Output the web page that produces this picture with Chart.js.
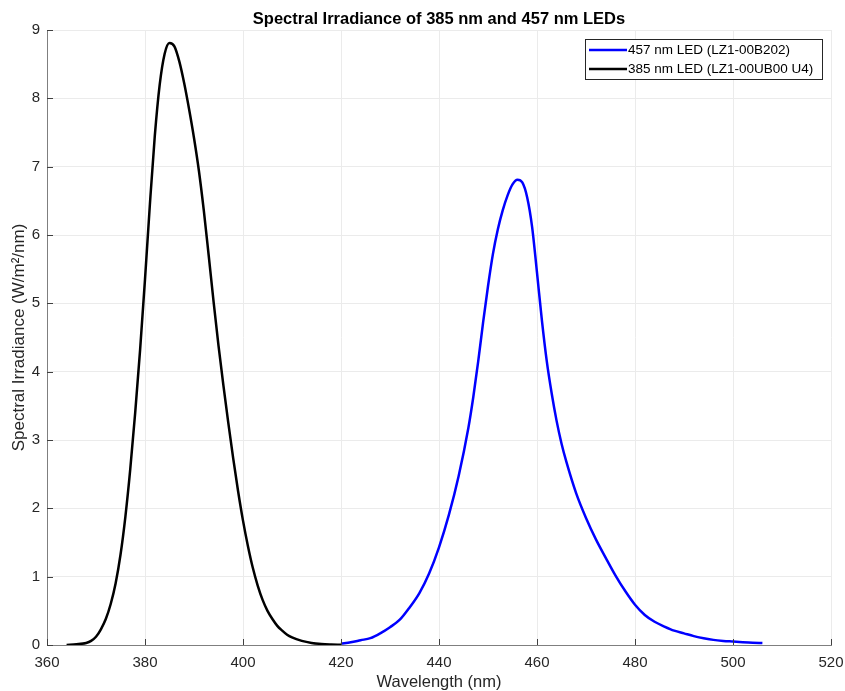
<!DOCTYPE html>
<html lang="en">
<head>
  <meta charset="UTF-8">
  <title>Spectral Irradiance of 385 nm and 457 nm LEDs</title>
  <script src="https://cdn.jsdelivr.net/npm/chart.js"></script>
  <style>
    body {
      margin: 0;
      background-color: #ffffff;
    }
    #chart-box {
      width: 845px;
      height: 691px;
    }
  </style>
</head>
<body>
  <div id="chart-box">
    <canvas id="spectrumChart" width="845" height="691"></canvas>
  </div>

  <script>
    // 385 nm LED (LZ1-00UB00 U4)
    const uvWavelength = [364, 366, 368, 369, 370, 371, 372, 373, 374, 375, 376, 377, 378, 379, 380,
      381, 382, 383, 384, 385, 386, 387, 388, 389, 390, 391, 392, 393, 394, 395, 396, 397, 398, 399,
      400, 401, 402, 403, 404, 405, 406, 407, 408, 409, 410, 412, 414, 416, 418, 420];
    const uvIrradiance = [0, 0.01, 0.03, 0.06, 0.12, 0.23, 0.38, 0.60, 0.90, 1.32, 1.88, 2.58, 3.40, 4.32, 5.35,
      6.45, 7.45, 8.20, 8.65, 8.81, 8.76, 8.54, 8.22, 7.84, 7.42, 6.94, 6.36, 5.70, 5.02, 4.38, 3.80, 3.25, 2.73, 2.25,
      1.82, 1.45, 1.13, 0.87, 0.66, 0.50, 0.38, 0.28, 0.21, 0.15, 0.11, 0.06, 0.03, 0.015, 0.008, 0.004];

    // 457 nm LED (LZ1-00B202)
    const blueWavelength = [420, 422, 424, 426, 428, 430, 432, 434, 436, 438, 440, 442, 444, 446, 447, 448, 449, 450,
      451, 452, 453, 454, 455, 456, 457, 458, 459, 460, 461, 462, 463, 464, 465, 466, 468, 470, 472, 474,
      476, 478, 480, 482, 484, 486, 488, 490, 492, 494, 496, 498, 500, 502, 504, 506];
    const blueIrradiance = [0.02, 0.04, 0.07, 0.10, 0.17, 0.26, 0.37, 0.55, 0.76, 1.05, 1.43, 1.90, 2.47, 3.18, 3.63, 4.15, 4.72, 5.25,
      5.72, 6.08, 6.36, 6.58, 6.74, 6.81, 6.77, 6.55, 6.12, 5.45, 4.75, 4.15, 3.68, 3.28, 2.95, 2.68, 2.22, 1.86, 1.55, 1.28,
      1.02, 0.79, 0.59, 0.44, 0.34, 0.27, 0.21, 0.17, 0.13, 0.10, 0.075, 0.06, 0.05, 0.04, 0.032, 0.028];

    const seriesLabels = ['457 nm LED (LZ1-00B202)', '385 nm LED (LZ1-00UB00 U4)'];
    const chartTitle = 'Spectral Irradiance of 385 nm and 457 nm LEDs';

    const toPoints = (xs, ys) => xs.map((x, i) => ({ x: x, y: ys[i] }));

    const FONT = 'Arial, "Liberation Sans", sans-serif';

    // titulo, leyenda dentro del area y ticks hacia dentro (estilo MATLAB)
    const matlabStyle = {
      id: 'matlabStyle',
      afterDraw(chart) {
        const ctx = chart.ctx;
        const area = chart.chartArea;
        const xs = chart.scales.x;
        const ys = chart.scales.y;
        ctx.save();

        // ticks
        ctx.strokeStyle = '#404040';
        ctx.lineWidth = 1;
        ctx.beginPath();
        xs.ticks.forEach(t => {
          const px = Math.round(xs.getPixelForValue(t.value)) + 0.5;
          ctx.moveTo(px, area.bottom);
          ctx.lineTo(px, area.bottom - 6);
        });
        ys.ticks.forEach(t => {
          const py = Math.round(ys.getPixelForValue(t.value)) + 0.5;
          ctx.moveTo(area.left, py);
          ctx.lineTo(area.left + 6, py);
        });
        ctx.stroke();

        // titulo
        ctx.fillStyle = '#000000';
        ctx.font = 'bold 16.5px ' + FONT;
        ctx.textAlign = 'center';
        ctx.textBaseline = 'middle';
        ctx.fillText(chartTitle, (area.left + area.right) / 2, 19);

        // leyenda
        const datasets = chart.data.datasets;
        const bx = 585, by = 39, bw = 237, bh = 40;
        ctx.fillStyle = '#ffffff';
        ctx.fillRect(bx, by, bw, bh);
        ctx.strokeStyle = '#262626';
        ctx.lineWidth = 1;
        ctx.strokeRect(bx + 0.5, by + 0.5, bw, bh);
        ctx.font = '13.5px ' + FONT;
        ctx.textAlign = 'left';
        datasets.forEach((ds, i) => {
          const ly = by + 11 + i * 19;
          ctx.strokeStyle = ds.borderColor;
          ctx.lineWidth = 2.5;
          ctx.beginPath();
          ctx.moveTo(bx + 4, ly);
          ctx.lineTo(bx + 42, ly);
          ctx.stroke();
          ctx.fillStyle = '#000000';
          ctx.fillText(ds.label, bx + 43, ly);
        });
        ctx.restore();
      }
    };

    const ctx = document.getElementById('spectrumChart').getContext('2d');
    const spectrumChart = new Chart(ctx, {
      type: 'line',
      data: {
        datasets: [
          {
            label: seriesLabels[0],
            data: toPoints(blueWavelength, blueIrradiance),
            borderColor: '#0000ff',
            borderWidth: 2.5,
            pointRadius: 0,
            cubicInterpolationMode: 'monotone'
          },
          {
            label: seriesLabels[1],
            data: toPoints(uvWavelength, uvIrradiance),
            borderColor: '#000000',
            borderWidth: 2.5,
            pointRadius: 0,
            cubicInterpolationMode: 'monotone'
          }
        ]
      },
      options: {
        responsive: false,
        animation: false,
        layout: { padding: { top: 30, right: 14, left: 0, bottom: 0 } },
        plugins: {
          legend: { display: false },
          title: { display: false },
          tooltip: { enabled: false }
        },
        scales: {
          x: {
            type: 'linear',
            min: 360,
            max: 520,
            ticks: { stepSize: 20, padding: 9, color: '#262626', font: { family: FONT, size: 15 } },
            grid: { color: '#ebebeb', drawTicks: false },
            border: { color: '#7f7f7f' },
            title: { display: true, text: 'Wavelength (nm)', color: '#262626', padding: { top: 0, bottom: -1 }, font: { family: FONT, size: 16.5 } },
            afterFit(scale) {
              scale.height = 46;
              scale.paddingLeft = 0;
              scale.paddingRight = 0;
            }
          },
          y: {
            min: 0,
            max: 9,
            ticks: { stepSize: 1, padding: 7, color: '#262626', font: { family: FONT, size: 15 } },
            grid: { color: '#ebebeb', drawTicks: false },
            border: { color: '#7f7f7f' },
            title: { display: true, text: 'Spectral Irradiance (W/m²/nm)', color: '#262626', padding: { top: 9, bottom: 0 }, font: { family: FONT, size: 17 } },
            afterFit(scale) {
              scale.width = 47;
              scale.paddingTop = 0;
              scale.paddingBottom = 0;
            }
          }
        }
      },
      plugins: [matlabStyle]
    });
  </script>
</body>
</html>
